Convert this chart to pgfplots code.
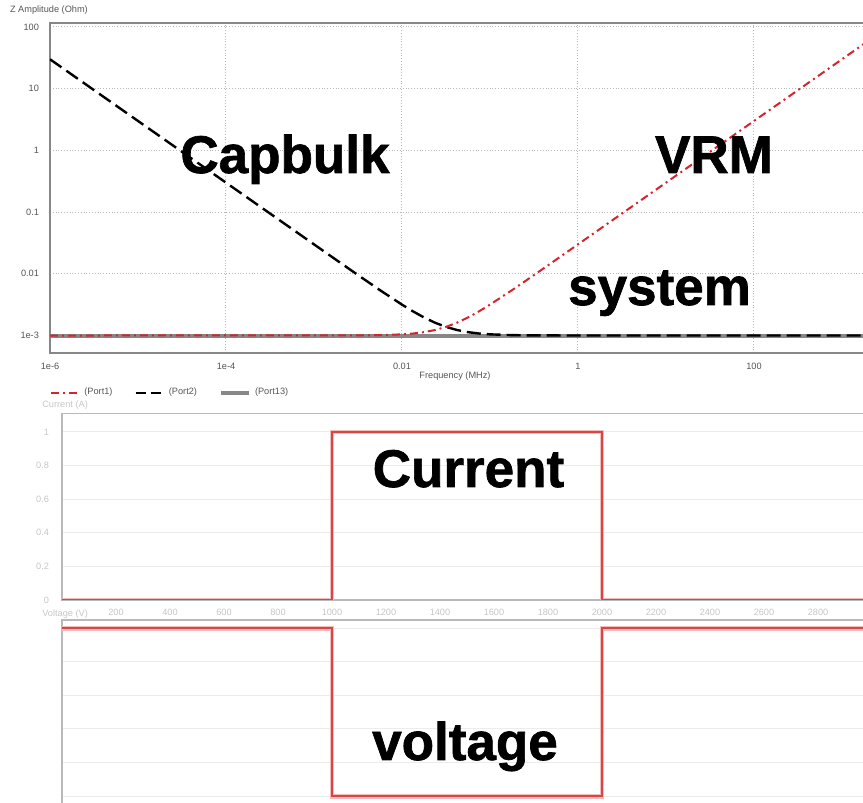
\documentclass[border=0pt]{standalone}
\usepackage{fontspec}
\setmainfont{Liberation Sans}
\IfFontExistsTF{Liberation Sans Bold}
  {\newfontfamily\bigfam{Liberation Sans Bold}[FakeBold=1.3]}
  {\newfontfamily\bigfam{Liberation Sans}[FakeBold=3]}
\usepackage{pgfplots}
\pgfplotsset{compat=1.18}
\definecolor{portred}{RGB}{215,35,45}
\definecolor{txtgray}{RGB}{85,85,85}
\definecolor{sysgray}{RGB}{135,135,135}
\definecolor{curred}{RGB}{215,70,70}
\definecolor{glow}{RGB}{245,190,190}
\newcommand{\tk}{\fontsize{4.6}{5.5}\selectfont}
\newcommand{\bigtxt}{\bigfam\fontsize{26.5}{30}\selectfont}
\begin{document}
\begin{tikzpicture}
\path[use as bounding box] (0,0) rectangle (431.5pt,401.5pt);
\clip (0,0) rectangle (431.5pt,401.5pt);
% ---------------- impedance plot ----------------
\begin{axis}[
  at={(25pt,225pt)}, anchor=south west,
  scale only axis, width=413.6pt, height=165pt,
  xmode=log, ymode=log,
  xmin=1e-6, xmax=2512, ymin=5.206e-4, ymax=116.1,
  axis line style={draw=sysgray, line width=0.8pt},
  major tick length=0pt, minor tick length=0pt,
  xminorticks=false, yminorticks=false,
  xtick={1e-6,1e-4,1e-2,1,100},
  xticklabels={1e-6,1e-4,0.01,1,100},
  ytick={1e-3,1e-2,1e-1,1,10,100},
  yticklabels={1e-3,0.01,0.1,1,10,100},
  ticklabel style={font=\tk, text=txtgray},
  xticklabel shift=1.5pt, yticklabel shift=2pt,
  grid=major, major grid style={densely dotted, gray!55, line width=0.5pt},
  xlabel={Frequency (MHz)},
  xlabel style={font=\tk, text=txtgray, at={(rel axis cs:0.4896,-0.0697)}, anchor=center},
  ylabel={Z Amplitude (Ohm)},
  ylabel style={font=\tk, text=txtgray, rotate=-90, at={(rel axis cs:-0.0568,1.0394)}, anchor=west},
  legend columns=3,
  legend style={at={(rel axis cs:0,-0.1212)}, anchor=west, draw=none, fill=none,
    inner sep=0pt, font=\tk, text=txtgray,
    /tikz/every even column/.append style={column sep=9pt}},
  legend cell align=left,
  legend image code/.code={\draw[#1] (0pt,0pt) -- (14pt,0pt);},
]
\addlegendimage{portred, line width=1pt, dash pattern=on 4pt off 2pt on 1pt off 2pt}
\addlegendentry{(Port1)}
\addlegendimage{black, line width=1.2pt, dash pattern=on 5pt off 2.5pt}
\addlegendentry{(Port2)}
\addlegendimage{sysgray, line width=2pt}
\addlegendentry{(Port13)}
% Port13 system
\addplot[sysgray, line width=2pt, forget plot] coordinates {(1e-6,1e-3) (2512,1e-3)};
% Port2 Capbulk
\addplot[black, line width=1.2pt, dash pattern=on 7pt off 3pt, forget plot] coordinates {
(1e-6,30) (1e-5,3) (1e-4,0.3) (1e-3,0.03002) (1.7783e-3,0.01690) (3.1623e-3,9.539e-3)
(5.6234e-3,5.428e-3) (0.01,3.1623e-3) (0.013335,2.4620e-3) (0.017783,1.9611e-3)
(0.023714,1.6126e-3) (0.031623,1.3784e-3) (0.042170,1.2272e-3) (0.056234,1.1334e-3)
(0.074989,1.0770e-3) (0.1,1.0440e-3) (0.17783,1.0141e-3) (0.31623,1.0045e-3)
(1,1.0e-3) (2512,1.0e-3)};
% Port1 VRM
\addplot[portred, line width=1pt, dash pattern=on 4pt off 2pt on 1pt off 2pt, forget plot] coordinates {
(1e-6,1.0e-3) (1e-3,1.0005e-3) (3.1623e-3,1.0045e-3) (5.6234e-3,1.0141e-3)
(0.01,1.0440e-3) (0.013335,1.0770e-3) (0.017783,1.1334e-3) (0.023714,1.2272e-3)
(0.031623,1.3784e-3) (0.042170,1.6126e-3) (0.056234,1.9611e-3) (0.074989,2.4620e-3)
(0.1,3.1623e-3) (0.17783,5.428e-3) (0.31623,9.539e-3) (0.56234,0.01690)
(1,0.03) (10,0.3) (100,3) (1000,30) (2512,75.4)};
\end{axis}
% ---------------- current plot ----------------
\begin{axis}[
  at={(31pt,101.5pt)}, anchor=south west,
  scale only axis, width=405pt, height=93.25pt,
  xmin=0, xmax=3000, ymin=0, ymax=1.11,
  axis line style={draw=gray!55, line width=0.8pt},
  major tick length=0pt,
  xtick={200,400,...,2800},
  ytick={0,0.2,0.4,0.6,0.8,1},
  /pgf/number format/assume math mode=true,
  /pgf/number format/set thousands separator={},
  ticklabel style={font=\tk, text=gray!45},
  xticklabel shift=1pt, yticklabel shift=3pt,
  ymajorgrids, major grid style={gray!15, line width=0.5pt},
  title={Current (A)},
  title style={font=\tk, text=gray!45, at={(axis description cs:-0.033,1.046)}, anchor=west, yshift=-6pt},
]
\addplot[glow, line width=2.4pt] coordinates {(0,0) (1000,0) (1000,1) (2000,1) (2000,0) (3000,0)};
\addplot[curred, line width=0.9pt] coordinates {(0,0) (1000,0) (1000,1) (2000,1) (2000,0) (3000,0)};
\end{axis}
% ---------------- voltage plot ----------------
\begin{axis}[
  at={(31pt,-5pt)}, anchor=south west,
  scale only axis, width=405pt, height=96.45pt,
  xmin=0, xmax=3000, ymin=-0.1, ymax=1.048,
  axis line style={draw=gray!55, line width=0.8pt},
  major tick length=0pt,
  xtick=\empty,
  ytick={0,0.2,0.4,0.6,0.8,1}, yticklabels={},
  ymajorgrids, major grid style={gray!15, line width=0.5pt},
  title={Voltage (V)},
  title style={font=\tk, text=gray!45, at={(axis description cs:-0.033,1.0316)}, anchor=west, yshift=-6pt},
]
\addplot[glow, line width=2.4pt] coordinates {(0,1) (1000,1) (1000,0) (2000,0) (2000,1) (3000,1)};
\addplot[curred, line width=0.9pt] coordinates {(0,1) (1000,1) (1000,0) (2000,0) (2000,1) (3000,1)};
\end{axis}
% ---------------- annotations ----------------
\node[anchor=base, inner sep=0pt] at (142.5pt,315pt) {\bigtxt Capbulk};
\node[anchor=base, inner sep=0pt] at (357pt,315pt) {\bigtxt VRM};
\node[anchor=base, inner sep=0pt] at (329.75pt,249pt) {\bigtxt system};
\node[anchor=base, inner sep=0pt] at (234.25pt,158pt) {\bigtxt Current};
\node[anchor=base, inner sep=0pt] at (232.5pt,21.5pt) {\bigtxt voltage};
\end{tikzpicture}
\end{document}
